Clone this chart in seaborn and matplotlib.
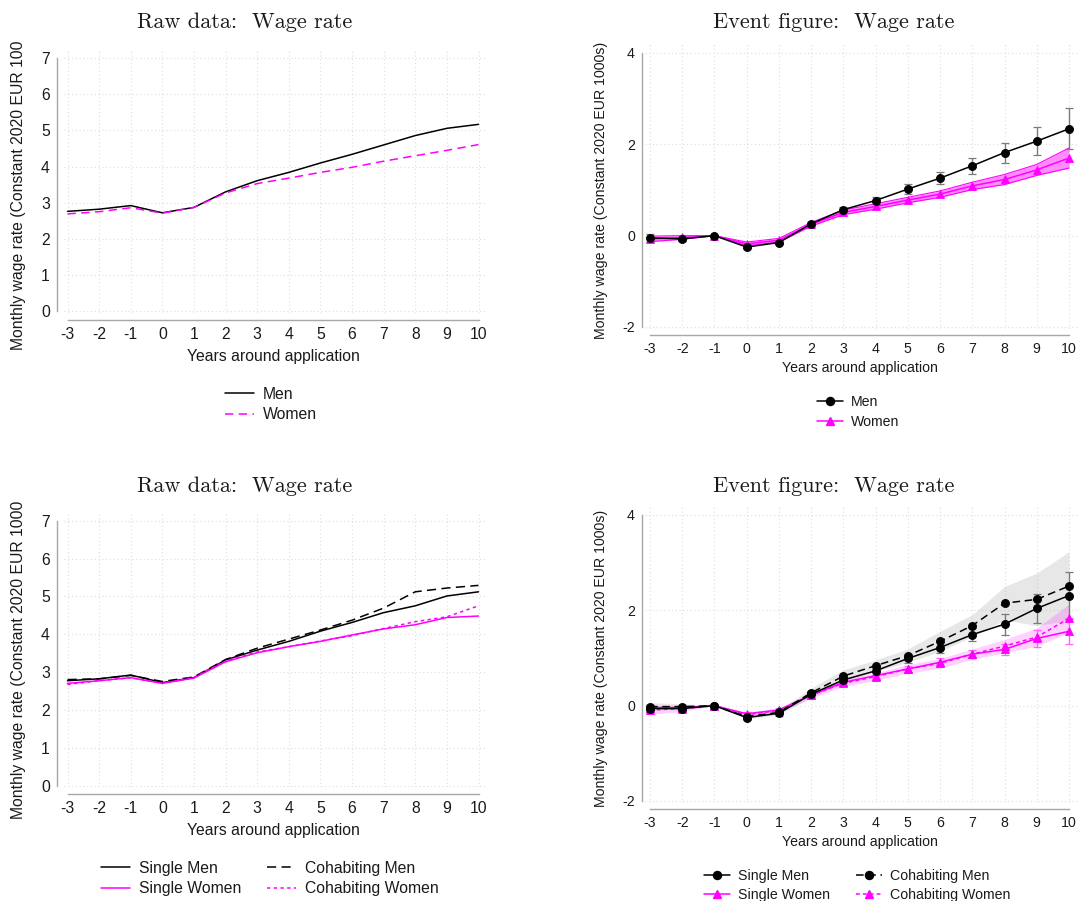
import matplotlib
matplotlib.use("Agg")
import matplotlib.pyplot as plt
import seaborn as sns
import pandas as pd
from matplotlib.lines import Line2D
from matplotlib.transforms import Bbox, TransformedBbox

# ---------------------------------------------------------------- data
years = list(range(-3, 11))

# Raw averages, all applicants
raw_men = [2.76, 2.82, 2.92, 2.72, 2.87, 3.30, 3.61, 3.84, 4.10, 4.34, 4.60, 4.86, 5.06, 5.17]
raw_women = [2.69, 2.75, 2.86, 2.71, 2.87, 3.27, 3.53, 3.68, 3.84, 3.98, 4.15, 4.30, 4.45, 4.61]

# Event-study estimates, all applicants (half-width of 95% CI)
ev_men = [-0.05, -0.07, 0.00, -0.25, -0.15, 0.26, 0.57, 0.77, 1.02, 1.26, 1.53, 1.82, 2.07, 2.34]
ev_men_ci = [0.08, 0.05, 0.00, 0.04, 0.04, 0.05, 0.06, 0.08, 0.11, 0.13, 0.17, 0.22, 0.30, 0.45]
ev_women = [-0.07, -0.04, 0.00, -0.18, -0.10, 0.25, 0.51, 0.64, 0.78, 0.91, 1.09, 1.23, 1.44, 1.70]
ev_women_ci = [0.06, 0.04, 0.00, 0.04, 0.04, 0.04, 0.05, 0.06, 0.06, 0.07, 0.08, 0.11, 0.12, 0.22]

# Raw averages by household type
raw_single_men = [2.77, 2.82, 2.92, 2.72, 2.85, 3.32, 3.58, 3.81, 4.08, 4.31, 4.57, 4.75, 5.01, 5.12]
raw_cohab_men = [2.80, 2.82, 2.91, 2.75, 2.87, 3.33, 3.63, 3.87, 4.11, 4.37, 4.69, 5.12, 5.22, 5.29]
raw_single_women = [2.70, 2.77, 2.85, 2.70, 2.84, 3.27, 3.51, 3.67, 3.81, 3.98, 4.14, 4.25, 4.44, 4.48]
raw_cohab_women = [2.67, 2.77, 2.85, 2.70, 2.86, 3.29, 3.53, 3.67, 3.82, 3.96, 4.15, 4.33, 4.46, 4.75]

# Event-study estimates by household type (half-width of 95% CI)
ev_single_men = [-0.06, -0.06, 0.00, -0.25, -0.16, 0.24, 0.54, 0.73, 0.99, 1.22, 1.49, 1.71, 2.04, 2.31]
ev_single_men_ci = [0.07, 0.06, 0.00, 0.05, 0.05, 0.06, 0.07, 0.08, 0.10, 0.11, 0.13, 0.22, 0.31, 0.50]
ev_cohab_men = [-0.02, -0.02, 0.00, -0.23, -0.14, 0.27, 0.62, 0.84, 1.05, 1.35, 1.68, 2.15, 2.23, 2.51]
ev_cohab_men_ci = [0.08, 0.06, 0.00, 0.05, 0.05, 0.10, 0.13, 0.12, 0.14, 0.21, 0.23, 0.35, 0.55, 0.72]
ev_single_women = [-0.04, -0.04, 0.00, -0.17, -0.09, 0.22, 0.49, 0.63, 0.77, 0.91, 1.08, 1.18, 1.41, 1.56]
ev_single_women_ci = [0.06, 0.05, 0.00, 0.04, 0.04, 0.05, 0.06, 0.06, 0.07, 0.08, 0.09, 0.12, 0.17, 0.27]
ev_cohab_women = [-0.09, -0.06, 0.00, -0.19, -0.10, 0.22, 0.47, 0.61, 0.77, 0.89, 1.08, 1.25, 1.44, 1.83]
ev_cohab_women_ci = [0.09, 0.06, 0.00, 0.05, 0.05, 0.06, 0.07, 0.08, 0.09, 0.10, 0.11, 0.14, 0.19, 0.30]

raw_yticks = [0, 1, 2, 3, 4, 5, 6, 7]
ev_yticks = [-2, 0, 2, 4]

raw_title = "Raw data:  Wage rate"
ev_title = "Event figure:  Wage rate"
xlab = "Years around application"
ylab = "Monthly wage rate (Constant 2020 EUR 1000s)"

# ---------------------------------------------------------------- style
W, H, DPI = 1079, 901, 100
sns.set_theme(style="white")
plt.rcParams["font.family"] = ["Liberation Sans", "DejaVu Sans"]
plt.rcParams["axes.unicode_minus"] = False

MAGENTA = "#ff00ff"
BLACK = "#000000"
SPINE = "#a8a8a8"
GRID = "#dedede"
ERRGRAY = "#7a7a7a"
TXT = "#1a1a1a"
MS_CIRCLE = 5.8
MS_TRI = 6.3

fig = plt.figure(figsize=(W / DPI, H / DPI), dpi=DPI)
fig.patch.set_facecolor("white")


def fx(px):
    return px / W


def fy(py):
    return 1 - py / H


def make_axes(xpx, ypx, xt, yt, xlim, ylim, spine_x, spine_y, yticks, fs):
    sx = (xpx[1] - xpx[0]) / (xt[1] - xt[0])
    sy = (ypx[0] - ypx[1]) / (yt[1] - yt[0])
    left = xpx[0] + (xlim[0] - xt[0]) * sx
    right = xpx[0] + (xlim[1] - xt[0]) * sx
    bottom = ypx[0] - (ylim[0] - yt[0]) * sy
    top = ypx[0] - (ylim[1] - yt[0]) * sy
    ax = fig.add_axes([fx(left), fy(bottom), (right - left) / W, (bottom - top) / H])
    ax.set_xlim(xlim)
    ax.set_ylim(ylim)
    ax.set_facecolor("white")
    for s in ("top", "right"):
        ax.spines[s].set_visible(False)
    ax.spines["left"].set_position(("outward", (left - spine_x) * 72 / DPI))
    ax.spines["bottom"].set_position(("outward", (spine_y - bottom) * 72 / DPI))
    ax.spines["left"].set_bounds(yticks[0], yticks[-1])
    ax.spines["bottom"].set_bounds(years[0], years[-1])
    for s in ("left", "bottom"):
        ax.spines[s].set_color(SPINE)
        ax.spines[s].set_linewidth(1.0)
    ax.set_xticks(years)
    ax.set_xticklabels([str(v) for v in years])
    ax.set_yticks(yticks)
    ax.set_yticklabels([str(v) for v in yticks])
    ax.tick_params(axis="both", direction="out", length=2.5, width=0.8,
                   color=SPINE, labelsize=fs, labelcolor=TXT, pad=2.5)
    ax.grid(True, linestyle=(0, (1, 2.4)), color=GRID, linewidth=0.8)
    ax.set_axisbelow(True)
    ax.set_xlabel("")
    ax.set_ylabel("")
    return ax


def titles(cx, cy, title, xcx, xcy, ycx, ycy, fs, clip_top=None):
    fig.text(fx(cx), fy(cy), title, ha="center", va="center",
             fontsize=16, family="cmr10", color=TXT)
    fig.text(fx(xcx), fy(xcy), xlab, ha="center", va="center",
             fontsize=fs, color=TXT)
    t = fig.text(fx(ycx), fy(ycy), ylab, ha="center", va="center",
                 rotation=90, fontsize=fs, color=TXT)
    if clip_top is not None:
        box = TransformedBbox(Bbox([[0, 0], [1, fy(clip_top)]]), fig.transFigure)
        t.set_clip_box(box)
        t.set_clip_on(True)


def line(ax, y, color, ls="-", marker=None, ms=5, lw=1.1, z=3):
    sns.lineplot(x=years, y=y, ax=ax, color=color, linestyle=ls, marker=marker,
                 markersize=ms, markeredgecolor=color, markeredgewidth=0.6,
                 linewidth=lw, errorbar=None, legend=False, zorder=z)


def errbars(ax, y, ci, color):
    ax.errorbar(years, y, yerr=ci, fmt="none", ecolor=color, elinewidth=1.0,
                capsize=2.6, capthick=0.9, zorder=2)


def band(ax, y, ci, color, alpha, edge=False):
    lo = [a - b for a, b in zip(y, ci)]
    hi = [a + b for a, b in zip(y, ci)]
    ax.fill_between(years, lo, hi, color=color, alpha=alpha, linewidth=0, zorder=1)
    if edge:
        ax.plot(years, lo, color=color, lw=0.8, zorder=1.5)
        ax.plot(years, hi, color=color, lw=0.8, zorder=1.5)


def legend(handles, labels, x, y, fs, ncol, pitch, handle_px, pad_px, colsp_px):
    em = fs * DPI / 72
    text_h = 0.97 * em
    fig.legend(handles, labels, loc="center left",
               bbox_to_anchor=(fx(x), fy(y)), bbox_transform=fig.transFigure,
               frameon=False, ncol=ncol, fontsize=fs, borderpad=0, borderaxespad=0,
               handlelength=handle_px / em, handletextpad=pad_px / em,
               columnspacing=colsp_px / em, labelspacing=(pitch - text_h) / em,
               labelcolor=TXT, numpoints=1)


LFS = 11.3
RFS = 10.2

# ---------------------------------------------------------------- top left
ax1 = make_axes((67.5, 478.5), (311, 58.3), (-3, 10), (0, 7), (-3.1, 10.25), (-0.05, 7.22),
                56.7, 320, raw_yticks, LFS)
line(ax1, raw_men, BLACK)
line(ax1, raw_women, MAGENTA, ls=(0, (5.5, 3.5)))
titles(245, 22, raw_title, 273, 356, 19, 184.6, LFS, clip_top=41)
legend([Line2D([], [], color=BLACK, lw=1.1),
        Line2D([], [], color=MAGENTA, lw=1.1, ls=(0, (5.5, 3.5)))],
       ["Men", "Women"], 225, 404.5, LFS, 1, 21, 29, 9, 0)

# ---------------------------------------------------------------- top right
ax2 = make_axes((650, 1069), (327, 53), (-3, 10), (-2, 4), (-3.15, 10.35), (-2.05, 4.2),
                641.7, 335, ev_yticks, RFS)
band(ax2, ev_women, ev_women_ci, MAGENTA, 0.45, edge=True)
errbars(ax2, ev_men, ev_men_ci, ERRGRAY)
line(ax2, ev_men, BLACK, marker="o", ms=MS_CIRCLE, z=4)
line(ax2, ev_women, MAGENTA, marker="^", ms=MS_TRI, z=3)
titles(834, 22, ev_title, 859.5, 368, 601, 190, RFS)
legend([Line2D([], [], color=BLACK, lw=1.1, marker="o", ms=MS_CIRCLE),
        Line2D([], [], color=MAGENTA, lw=1.1, marker="^", ms=MS_TRI)],
       ["Men", "Women"], 817, 412, RFS, 1, 20, 26, 8, 0)

# ---------------------------------------------------------------- bottom left
ax3 = make_axes((67.5, 478.5), (785.5, 520.7), (-3, 10), (0, 7), (-3.1, 10.25), (-0.05, 7.22),
                56.7, 794, raw_yticks, LFS)
line(ax3, raw_single_men, BLACK)
line(ax3, raw_cohab_men, BLACK, ls=(0, (6, 3.5)))
line(ax3, raw_single_women, MAGENTA)
line(ax3, raw_cohab_women, MAGENTA, ls=(0, (2.2, 2.2)))
titles(245, 486, raw_title, 273, 830, 19, 653, LFS, clip_top=502)
legend([Line2D([], [], color=BLACK, lw=1.1),
        Line2D([], [], color=MAGENTA, lw=1.1),
        Line2D([], [], color=BLACK, lw=1.1, ls=(0, (6, 3.5))),
        Line2D([], [], color=MAGENTA, lw=1.1, ls=(0, (2.2, 2.2)))],
       ["Single Men", "Single Women", "Cohabiting Men", "Cohabiting Women"],
       100.7, 878.5, LFS, 2, 21, 29, 9, 26)

# ---------------------------------------------------------------- bottom right
ax4 = make_axes((650, 1069), (801, 515), (-3, 10), (-2, 4), (-3.15, 10.35), (-2.05, 4.2),
                641.7, 809, ev_yticks, RFS)
band(ax4, ev_cohab_men, ev_cohab_men_ci, "#a0a0a0", 0.25)
band(ax4, ev_cohab_women, ev_cohab_women_ci, MAGENTA, 0.18)
errbars(ax4, ev_single_men, ev_single_men_ci, ERRGRAY)
errbars(ax4, ev_single_women, ev_single_women_ci, "#ff66ff")
line(ax4, ev_single_men, BLACK, marker="o", ms=MS_CIRCLE, z=4)
line(ax4, ev_cohab_men, BLACK, ls=(0, (5, 3)), marker="o", ms=MS_CIRCLE, z=4)
line(ax4, ev_single_women, MAGENTA, marker="^", ms=MS_TRI, z=3)
line(ax4, ev_cohab_women, MAGENTA, ls=(0, (2.5, 2)), marker="^", ms=MS_TRI, z=3)
titles(834, 486, ev_title, 859.5, 842, 601, 658, RFS)
legend([Line2D([], [], color=BLACK, lw=1.1, marker="o", ms=MS_CIRCLE),
        Line2D([], [], color=MAGENTA, lw=1.1, marker="^", ms=MS_TRI),
        Line2D([], [], color=BLACK, lw=1.1, ls=(0, (5, 3)), marker="o", ms=MS_CIRCLE),
        Line2D([], [], color=MAGENTA, lw=1.1, ls=(0, (2.5, 2)), marker="^", ms=MS_TRI)],
       ["Single Men", "Single Women", "Cohabiting Men", "Cohabiting Women"],
       704, 885.5, RFS, 2, 19, 26, 8, 26)

fig.savefig("out.png", dpi=DPI, facecolor="white")
